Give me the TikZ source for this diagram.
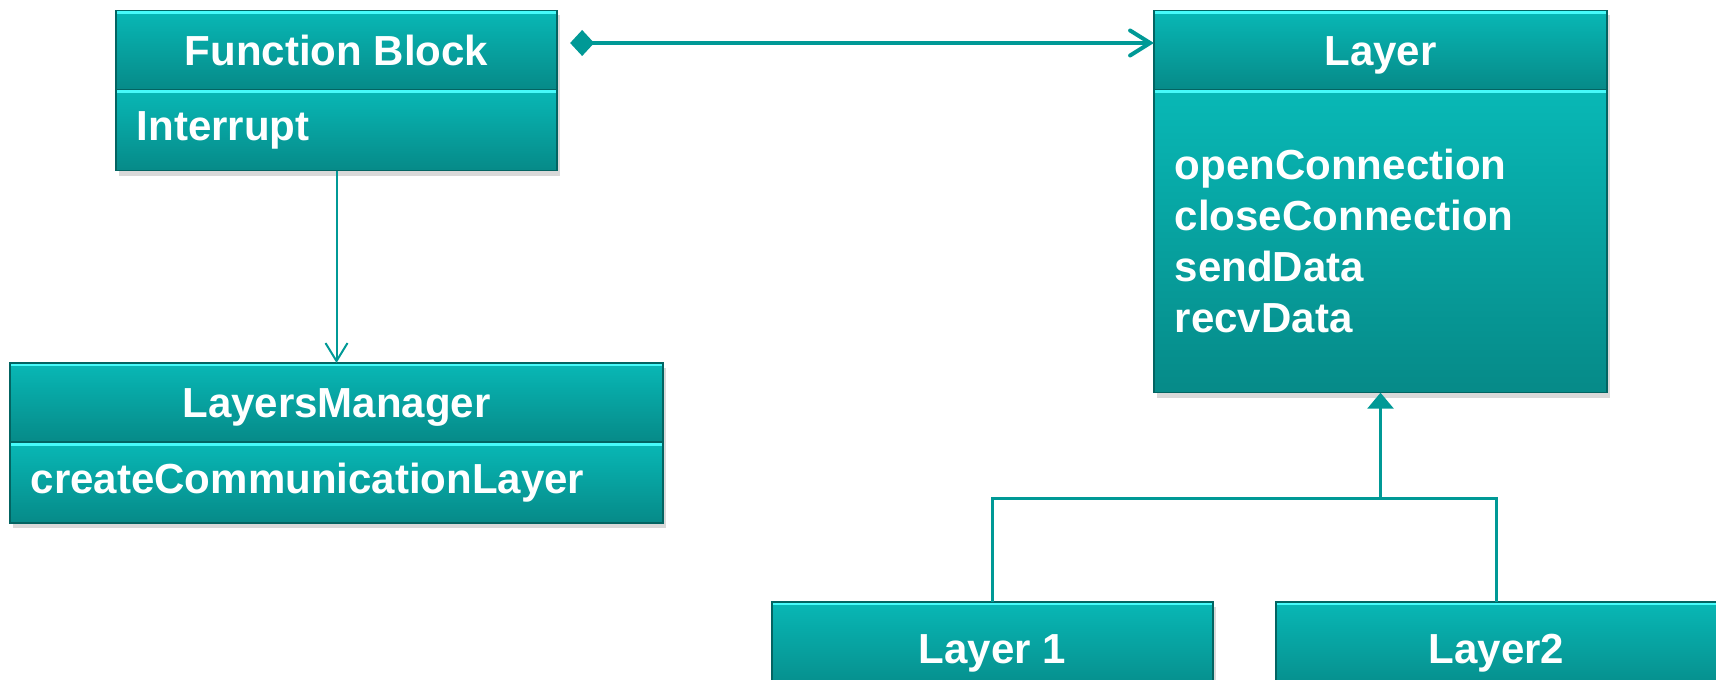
\documentclass[tikz,border=0pt]{standalone}
\usepackage{fontspec}
\setmainfont{Liberation Sans}
\usetikzlibrary{positioning,arrows.meta,shadows}
\definecolor{boxtop}{RGB}{8,184,182}
\definecolor{boxbot}{RGB}{6,138,136}
\definecolor{boxedge}{RGB}{3,100,98}
\definecolor{boxhi}{RGB}{70,250,250}
\definecolor{linkteal}{RGB}{0,153,150}

\begin{document}
\begin{tikzpicture}[x=0.01cm,y=-0.01cm,
  font=\fontsize{11.95}{14.5}\selectfont\bfseries,
  umlbox/.style={draw=boxedge,line width=0.4pt,top color=boxtop,bottom color=boxbot,
    text=white,inner sep=0pt,outer sep=0pt,
    drop shadow={shadow xshift=0.03cm,shadow yshift=-0.05cm,opacity=0.3},
    path picture={\fill[boxhi] (path picture bounding box.north west)
      rectangle ([yshift=-0.035cm]path picture bounding box.north east);}},
  classhead/.style={umlbox,minimum height=0.79cm,text height=0.3cm,text depth=0pt},
  classops/.style={umlbox,align=left,inner xsep=0.21cm,text width=#1,minimum height=0.81cm},
  link/.style={draw=linkteal,color=linkteal,line width=0.02cm},
  compose/.style={link,line width=0.04cm,shorten <=0.13cm,
    {Diamond[length=0.24cm,width=0.26cm]}-{Straight Barb[length=0.2cm,width=0.25cm,line cap=round]}},
  assoc/.style={link,-{Straight Barb[length=0.18cm,width=0.22cm]}},
  inherit/.style={link,line width=0.03cm}]
  \clip (0,0) rectangle (1716,679);
  % left hand classes
  \node[classhead,minimum width=4.41cm] (fb) at (336.5,50) {Function Block};
  \node[classops=3.99cm] (fbops) [below=0pt of fb] {Interrupt};
  \node[classhead,minimum width=6.53cm] (lm) at (336.5,402.5) {LayersManager};
  \node[classops=6.11cm] (lmops) [below=0pt of lm] {createCommunicationLayer};
  % communication layer
  \node[classhead,minimum width=4.53cm] (layer) at (1380.5,50) {Layer};
  \node[classops=4.11cm,minimum height=3.03cm] (layerops) [below=0pt of layer]
    {openConnection\\closeConnection\\sendData\\recvData};
  \node[classhead,minimum width=4.41cm,minimum height=0.92cm] (l1) at (992.5,648) {Layer 1};
  \node[classhead,minimum width=4.41cm,minimum height=0.92cm] (l2) at (1496.5,648) {Layer2};
  \coordinate (join) at (layerops.south |- 0,498);

  \draw[compose] ([yshift=0.07cm]fb.east) -- ([yshift=0.07cm]layer.west);
  \draw[assoc] (fbops.south) -- (lm.north);
  \draw[inherit] (l1.north) |- (join) -| (l2.north);
  \draw[inherit,-{Triangle[length=0.16cm,width=0.26cm]}] (join) -- (layerops.south);
\end{tikzpicture}
\end{document}
